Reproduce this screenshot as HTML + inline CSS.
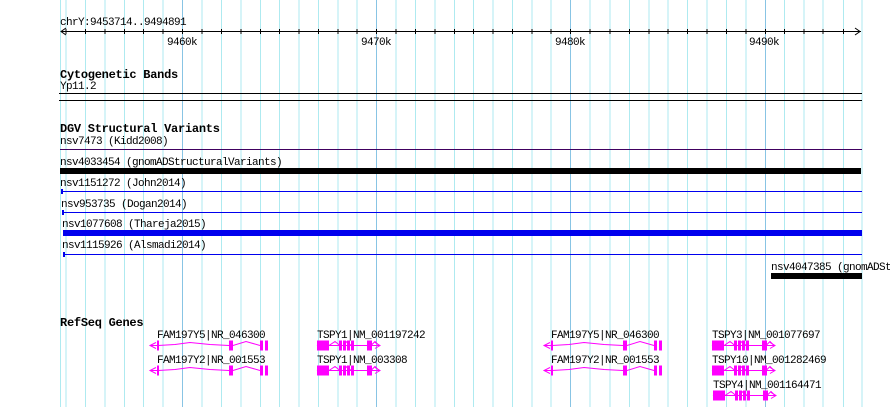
<!DOCTYPE html>
<html><head><meta charset="utf-8"><style>
html,body{margin:0;padding:0;background:#fff;}
svg{display:block;}
text{font-family:"Liberation Mono",monospace;font-size:11px;letter-spacing:-0.6px;fill:#000;}
.b{font-weight:bold;font-size:12px;letter-spacing:-0.26px;}
</style></head><body>
<svg width="890" height="407" xmlns="http://www.w3.org/2000/svg">
<g stroke="#aeeaf0" stroke-width="1">
<line x1="60.5" y1="0" x2="60.5" y2="407"/>
<line x1="66" y1="0" x2="66" y2="407"/><line x1="85.5" y1="0" x2="85.5" y2="407"/><line x1="105" y1="0" x2="105" y2="407"/><line x1="124.5" y1="0" x2="124.5" y2="407"/><line x1="143.5" y1="0" x2="143.5" y2="407"/><line x1="163" y1="0" x2="163" y2="407"/>
<line x1="202" y1="0" x2="202" y2="407"/><line x1="221.5" y1="0" x2="221.5" y2="407"/><line x1="241" y1="0" x2="241" y2="407"/><line x1="260.5" y1="0" x2="260.5" y2="407"/><line x1="279.5" y1="0" x2="279.5" y2="407"/><line x1="299" y1="0" x2="299" y2="407"/><line x1="318.5" y1="0" x2="318.5" y2="407"/><line x1="338" y1="0" x2="338" y2="407"/><line x1="357" y1="0" x2="357" y2="407"/>
<line x1="396" y1="0" x2="396" y2="407"/><line x1="415.5" y1="0" x2="415.5" y2="407"/><line x1="435" y1="0" x2="435" y2="407"/><line x1="454.5" y1="0" x2="454.5" y2="407"/><line x1="473.5" y1="0" x2="473.5" y2="407"/><line x1="493" y1="0" x2="493" y2="407"/><line x1="512.5" y1="0" x2="512.5" y2="407"/><line x1="532" y1="0" x2="532" y2="407"/><line x1="551" y1="0" x2="551" y2="407"/>
<line x1="590" y1="0" x2="590" y2="407"/><line x1="610" y1="0" x2="610" y2="407"/><line x1="629.5" y1="0" x2="629.5" y2="407"/><line x1="649" y1="0" x2="649" y2="407"/><line x1="668" y1="0" x2="668" y2="407"/><line x1="687.5" y1="0" x2="687.5" y2="407"/><line x1="707" y1="0" x2="707" y2="407"/><line x1="726.5" y1="0" x2="726.5" y2="407"/><line x1="746" y1="0" x2="746" y2="407"/>
<line x1="784.5" y1="0" x2="784.5" y2="407"/><line x1="804" y1="0" x2="804" y2="407"/><line x1="823" y1="0" x2="823" y2="407"/><line x1="843.5" y1="0" x2="843.5" y2="407"/><line x1="862" y1="0" x2="862" y2="407"/>
</g>
<g stroke="#88c4e4" stroke-width="1">
<line x1="182.5" y1="0" x2="182.5" y2="407"/><line x1="376.5" y1="0" x2="376.5" y2="407"/><line x1="570.5" y1="0" x2="570.5" y2="407"/><line x1="765.5" y1="0" x2="765.5" y2="407"/>
</g>
<text x="60" y="25">chrY:9453714..9494891</text>
<line x1="61" y1="31.5" x2="861" y2="31.5" stroke="#000"/>
<polyline points="66,28 61,31.5 66,35" fill="none" stroke="#000"/>
<polyline points="855,28 860,31.5 855,35" fill="none" stroke="#000"/>
<g stroke="#000">
<line x1="66" y1="29" x2="66" y2="34"/><line x1="85.5" y1="29" x2="85.5" y2="34"/><line x1="105" y1="29" x2="105" y2="34"/><line x1="124.5" y1="29" x2="124.5" y2="34"/><line x1="143.5" y1="29" x2="143.5" y2="34"/><line x1="163" y1="29" x2="163" y2="34"/><line x1="182.5" y1="29" x2="182.5" y2="34"/><line x1="202" y1="29" x2="202" y2="34"/><line x1="221.5" y1="29" x2="221.5" y2="34"/><line x1="241" y1="29" x2="241" y2="34"/><line x1="260.5" y1="29" x2="260.5" y2="34"/><line x1="279.5" y1="29" x2="279.5" y2="34"/><line x1="299" y1="29" x2="299" y2="34"/><line x1="318.5" y1="29" x2="318.5" y2="34"/><line x1="338" y1="29" x2="338" y2="34"/><line x1="357" y1="29" x2="357" y2="34"/><line x1="376.5" y1="29" x2="376.5" y2="34"/><line x1="396" y1="29" x2="396" y2="34"/><line x1="415.5" y1="29" x2="415.5" y2="34"/><line x1="435" y1="29" x2="435" y2="34"/><line x1="454.5" y1="29" x2="454.5" y2="34"/><line x1="473.5" y1="29" x2="473.5" y2="34"/><line x1="493" y1="29" x2="493" y2="34"/><line x1="512.5" y1="29" x2="512.5" y2="34"/><line x1="532" y1="29" x2="532" y2="34"/><line x1="551" y1="29" x2="551" y2="34"/><line x1="570.5" y1="29" x2="570.5" y2="34"/><line x1="590" y1="29" x2="590" y2="34"/><line x1="610" y1="29" x2="610" y2="34"/><line x1="629.5" y1="29" x2="629.5" y2="34"/><line x1="649" y1="29" x2="649" y2="34"/><line x1="668" y1="29" x2="668" y2="34"/><line x1="687.5" y1="29" x2="687.5" y2="34"/><line x1="707" y1="29" x2="707" y2="34"/><line x1="726.5" y1="29" x2="726.5" y2="34"/><line x1="746" y1="29" x2="746" y2="34"/><line x1="765.5" y1="29" x2="765.5" y2="34"/><line x1="784.5" y1="29" x2="784.5" y2="34"/><line x1="804" y1="29" x2="804" y2="34"/><line x1="823" y1="29" x2="823" y2="34"/><line x1="843.5" y1="29" x2="843.5" y2="34"/>
</g>
<text x="167" y="45">9460k</text><text x="361" y="45">9470k</text><text x="555" y="45">9480k</text><text x="749" y="45">9490k</text>
<text class="b" x="60" y="78">Cytogenetic Bands</text>
<text x="60" y="89">Yp11.2</text>
<rect x="59" y="93" width="803" height="1" fill="#000"/>
<rect x="59" y="100" width="803" height="1" fill="#000"/>
<text class="b" x="60" y="132">DGV Structural Variants</text>
<text x="60" y="144">nsv7473 (Kidd2008)</text>
<rect x="60" y="149" width="802" height="1" fill="#400060"/>
<text x="60" y="165">nsv4033454 (gnomADStructuralVariants)</text>
<rect x="60" y="168" width="801" height="6" fill="#000"/>
<text x="60" y="186">nsv1151272 (John2014)</text>
<rect x="61" y="191" width="801" height="1" fill="#0000ee"/><rect x="61" y="189" width="2" height="5" fill="#0000ee"/>
<text x="61" y="207">nsv953735 (Dogan2014)</text>
<rect x="62" y="212" width="800" height="1" fill="#0000ee"/><rect x="62" y="210" width="2" height="5" fill="#0000ee"/>
<text x="62" y="227">nsv1077608 (Thareja2015)</text>
<rect x="63" y="230" width="799" height="6" fill="#0000ee"/>
<text x="62" y="248">nsv1115926 (Alsmadi2014)</text>
<rect x="63" y="254" width="799" height="1" fill="#0000ee"/><rect x="63" y="252" width="2" height="5" fill="#0000ee"/>
<text x="771" y="270">nsv4047385 (gnomADSt</text>
<rect x="771" y="273" width="91" height="6" fill="#000"/>
<text class="b" x="60" y="326">RefSeq Genes</text>
<defs>
<g id="fam">
<polyline points="156,-3 150,0 156,3" fill="none" stroke="#ff00ff"/>
<polyline points="150,0 158,0 175,-1 190,-3 210,-1 229,0 233,0 246,-4 260,0" fill="none" stroke="#ff00ff"/>
<rect x="157" y="-5" width="2" height="10" fill="#ff00ff"/>
<rect x="229" y="-5" width="4" height="10" fill="#ff00ff"/>
<rect x="260" y="-5" width="3" height="10" fill="#ff00ff"/>
<rect x="265" y="-5" width="3" height="10" fill="#ff00ff"/>
</g>
<g id="tspy">
<polyline points="0,0 5,-4 10,0 12,0 18,-4 23,0 26,0 30,-4 34,0 54,0 58,-4 62,0 63,0" fill="none" stroke="#ff00ff"/>
<polyline points="0,0 44,0" fill="none" stroke="#ff00ff"/>
<rect x="0" y="-5" width="12" height="10" fill="#ff00ff"/>
<rect x="22" y="-5" width="3" height="10" fill="#ff00ff"/>
<rect x="26" y="-5" width="3" height="10" fill="#ff00ff"/>
<rect x="30" y="-5" width="3" height="10" fill="#ff00ff"/>
<rect x="34" y="-5" width="3" height="10" fill="#ff00ff"/>
<rect x="50" y="-5" width="5" height="10" fill="#ff00ff"/>
<line x1="44" y1="0" x2="50" y2="0" stroke="#ff00ff"/>
<line x1="55" y1="0" x2="63" y2="0" stroke="#ff00ff"/>
<polyline points="58,-3 63,0 58,3" fill="none" stroke="#ff00ff"/>
</g>
</defs>
<text x="157" y="338">FAM197Y5|NR_046300</text>
<use href="#fam" transform="translate(0,345.5)"/>
<text x="157" y="363">FAM197Y2|NR_001553</text>
<use href="#fam" transform="translate(0,370.5)"/>
<text x="551" y="338">FAM197Y5|NR_046300</text>
<use href="#fam" transform="translate(394,345.5)"/>
<text x="551" y="363">FAM197Y2|NR_001553</text>
<use href="#fam" transform="translate(394,370.5)"/>
<text x="317" y="338">TSPY1|NM_001197242</text>
<use href="#tspy" transform="translate(317,345.5)"/>
<text x="317" y="363">TSPY1|NM_003308</text>
<use href="#tspy" transform="translate(317,370.5)"/>
<text x="712" y="338">TSPY3|NM_001077697</text>
<use href="#tspy" transform="translate(712,345.5)"/>
<text x="712" y="363">TSPY10|NM_001282469</text>
<use href="#tspy" transform="translate(712,370.5)"/>
<text x="713" y="388">TSPY4|NM_001164471</text>
<use href="#tspy" transform="translate(713,395.5)"/>
</svg>
</body></html>
